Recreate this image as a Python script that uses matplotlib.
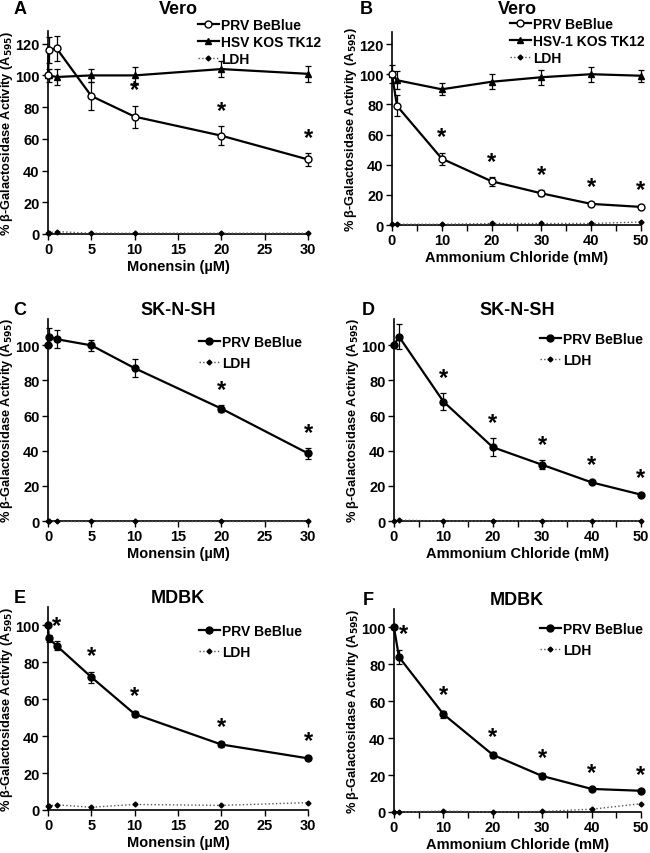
import numpy as np
import matplotlib
matplotlib.use('Agg')
import matplotlib.pyplot as plt
from matplotlib.ticker import MultipleLocator

plt.rcParams['font.family'] = ['Liberation Sans', 'DejaVu Sans']
plt.rcParams['font.weight'] = 'bold'

# concentrations
mon_x = [0, 0.1, 1, 5, 10, 20, 30]
nh4_x = [0, 1, 10, 20, 30, 40, 50]

# A: Vero, monensin
a_prv = [100, 116, 117, 87, 74, 62, 47]
a_prv_err = [0, 8, 8, 9, 7, 6, 4]
a_hsv = [100, 100, 99, 100, 100, 104, 101]
a_hsv_err = [0, 4, 5, 4, 5, 5, 5]
a_ldh = [0.5, 0.8, 1.5, 0.5, 0.5, 0.5, 0.5]
a_stars = [10, 20, 30]

# B: Vero, ammonium chloride
b_prv = [100, 79, 44, 29, 21, 14, 12]
b_prv_err = [0, 7, 4, 3, 2, 1, 1]
b_hsv = [100, 96, 90, 95, 98, 100, 99]
b_hsv_err = [6, 6, 4, 5, 5, 5, 4]
b_ldh = [0.5, 0.5, 0.5, 1, 1, 1, 2]
b_stars = [10, 20, 30, 40, 50]

# C: SK-N-SH, monensin
c_prv = [100, 105, 103.5, 100, 87, 64, 38.5]
c_prv_err = [0, 5, 5, 3, 5, 2, 3]
c_ldh = [0, 0, 0, 0, 0, 0, 0]
c_stars = [20, 30]

# D: SK-N-SH, ammonium chloride
d_prv = [100, 105, 68, 42, 32, 22, 15]
d_prv_err = [0, 7, 5, 5, 2.5, 1, 1]
d_ldh = [0, 0.5, 0, 0, 0, 0, 0]
d_stars = [10, 20, 30, 40, 50]

# E: MDBK, monensin
e_prv = [100, 93, 89, 72, 52, 35.5, 28]
e_prv_err = [0, 2, 2.5, 3, 1.5, 1.5, 1]
e_ldh = [2.2, 2.2, 2.8, 1.5, 3, 2.5, 4]
e_stars = [1, 5, 10, 20, 30]

# F: MDBK, ammonium chloride
f_prv = [100, 84, 53, 31, 19.5, 12.5, 11.5]
f_prv_err = [0, 4, 2, 1.5, 1.5, 0.5, 0.5]
f_ldh = [0, 0, 0.5, 0, 0.3, 1.5, 4.5]
f_stars = [1, 10, 20, 30, 40, 50]

YLABEL = '% β-Galactosidase Activity (A$_{\\mathbf{595}}$)'
FS = 10.5


def px_rect(l, r, b, t):
    return [l / 650, 1 - b / 854, (r - l) / 650, (b - t) / 854]


def draw_panel(ax, x, prv, prv_err, ldh, stars, ytop, xmax, xlabel,
               open_prv=False, hsv=None, hsv_err=None, hsv_label=None,
               first_star_dx=0):
    prv_mfc = 'white' if open_prv else 'black'
    ax.errorbar(x, prv, yerr=prv_err, fmt='none', ecolor='black',
                elinewidth=0.9, capsize=2.5, capthick=0.9, clip_on=False)
    if hsv is not None:
        ax.errorbar(x, hsv, yerr=hsv_err, fmt='none', ecolor='black',
                    elinewidth=0.9, capsize=2.5, capthick=0.9, clip_on=False)
    ax.plot(x, prv, '-', color='black', lw=1.6, marker='o', ms=5,
            mfc=prv_mfc, mec='black', mew=1, label='PRV BeBlue',
            clip_on=False, zorder=4)
    if hsv is not None:
        ax.plot(x, hsv, '-', color='black', lw=1.6, marker='^', ms=4.5,
                mfc='black', label=hsv_label, clip_on=False, zorder=3)
    ax.plot(x, ldh, ':', color='#555555', lw=1, marker='D', ms=2.5,
            mfc='black', mec='black', label='LDH', clip_on=False, zorder=3)

    for k, sx in enumerate(stars):
        i = x.index(sx)
        dx = first_star_dx if k == 0 else 0
        ax.annotate('*', (sx, prv[i] + prv_err[i]), xytext=(dx, 3),
                    textcoords='offset points', ha='center', va='bottom',
                    fontsize=17, fontweight='bold')

    ax.set_xlim(0, xmax)
    ax.set_ylim(0, ytop)
    ax.yaxis.set_major_locator(MultipleLocator(20))
    if xmax == 50:
        ax.xaxis.set_major_locator(MultipleLocator(10))
        ax.xaxis.set_minor_locator(MultipleLocator(5))
    else:
        ax.xaxis.set_major_locator(MultipleLocator(5))
    ax.tick_params(which='both', direction='out', length=4, width=1,
                   labelsize=FS, pad=2)
    for lab in ax.get_xticklabels() + ax.get_yticklabels():
        lab.set_fontweight('bold')
    for s in ['top', 'right']:
        ax.spines[s].set_visible(False)
    for s in ['left', 'bottom']:
        ax.spines[s].set_linewidth(1.2)
    ax.set_xlabel(xlabel, fontsize=FS, fontweight='bold', labelpad=2)
    ax.set_ylabel(YLABEL, fontsize=9.2, fontweight='bold', labelpad=0)


def main():
    fig = plt.figure(figsize=(6.5, 8.54), dpi=100)

    ax_a = fig.add_axes(px_rect(48, 308, 235, 32))
    ax_b = fig.add_axes(px_rect(392, 641, 226, 33))
    ax_c = fig.add_axes(px_rect(48, 308, 522, 320))
    ax_d = fig.add_axes(px_rect(394, 641, 522, 320))
    ax_e = fig.add_axes(px_rect(48, 308, 811, 608))
    ax_f = fig.add_axes(px_rect(394, 641, 813, 610))

    draw_panel(ax_a, mon_x, a_prv, a_prv_err, a_ldh, a_stars, 128, 30,
               'Monensin (µM)', open_prv=True, hsv=a_hsv, hsv_err=a_hsv_err,
               hsv_label='HSV KOS TK12')
    draw_panel(ax_b, nh4_x, b_prv, b_prv_err, b_ldh, b_stars, 128, 50,
               'Ammonium Chloride (mM)', open_prv=True, hsv=b_hsv,
               hsv_err=b_hsv_err, hsv_label='HSV-1 KOS TK12')
    draw_panel(ax_c, mon_x, c_prv, c_prv_err, c_ldh, c_stars, 115, 30,
               'Monensin (µM)')
    draw_panel(ax_d, nh4_x, d_prv, d_prv_err, d_ldh, d_stars, 115, 50,
               'Ammonium Chloride (mM)')
    draw_panel(ax_e, mon_x, e_prv, e_prv_err, e_ldh, e_stars, 110, 30,
               'Monensin (µM)')
    draw_panel(ax_f, nh4_x, f_prv, f_prv_err, f_ldh, f_stars, 110, 50,
               'Ammonium Chloride (mM)', first_star_dx=3)

    # legends (upper-left corner in pixels, label spacing)
    leg_pos = [(ax_a, 198, 19, 0.2), (ax_b, 510, 18, 0.2),
               (ax_c, 199, 336, 0.5), (ax_d, 540, 333, 0.5),
               (ax_e, 199, 625, 0.5), (ax_f, 540, 623, 0.5)]
    for ax, lx, ly, sp in leg_pos:
        ax.legend(loc='upper left', bbox_to_anchor=(lx / 650, 1 - ly / 854),
                  bbox_transform=fig.transFigure, frameon=False,
                  borderpad=0, handlelength=1.5, handletextpad=0.15,
                  labelspacing=sp, borderaxespad=0,
                  prop={'size': 10, 'weight': 'bold'})

    # titles and panel letters
    titles = [('A', 'Vero', 20, 178, 14), ('B', 'Vero', 366, 517, 14),
              ('C', 'SK-N-SH', 20, 178, 315), ('D', 'SK-N-SH', 368, 517, 315),
              ('E', 'MDBK', 20, 178, 603), ('F', 'MDBK', 368, 517, 605)]
    for letter, title, lx, tx, by in titles:
        fig.text(lx / 650, 1 - by / 854, letter, fontsize=13,
                 fontweight='bold', ha='center', va='baseline')
        fig.text(tx / 650, 1 - by / 854, title, fontsize=13,
                 fontweight='bold', ha='center', va='baseline')

    fig.savefig('out.png', dpi=100)


if __name__ == '__main__':
    main()
